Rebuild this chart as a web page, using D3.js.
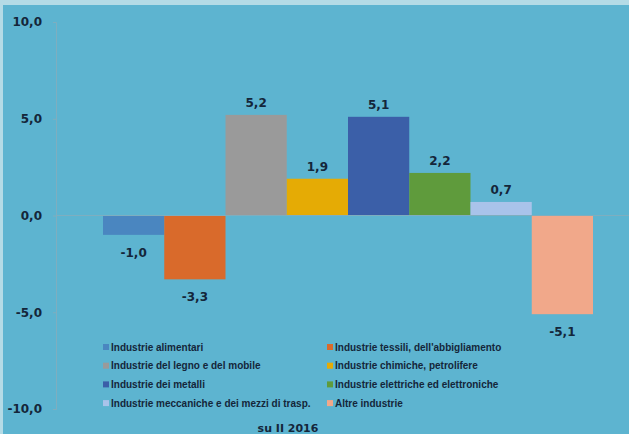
<!DOCTYPE html>
<html>
<head>
<meta charset="utf-8">
<script src="https://cdn.jsdelivr.net/npm/d3@7"></script>
<style>
  html, body { margin: 0; padding: 0; background: #5db4d0; }
  svg { display: block; }
</style>
</head>
<body>
<div id="chart"></div>
<script>
// series names, one bar each
const seriesNames = [
  "Industrie alimentari",
  "Industrie tessili, dell'abbigliamento",
  "Industrie del legno e del mobile",
  "Industrie chimiche, petrolifere",
  "Industrie dei metalli",
  "Industrie elettriche ed elettroniche",
  "Industrie meccaniche e dei mezzi di trasp.",
  "Altre industrie"
];
const seriesValues = [-1.0, -3.3, 5.2, 1.9, 5.1, 2.2, 0.7, -5.1];
const seriesColors = ["#4a86c0", "#d96a2b", "#9a9a9a", "#e5ab05", "#3b5fa8", "#5f9b3c", "#a9c3ea", "#f1a88a"];
const yTicks = [-10, -5, 0, 5, 10];
const categoryLabel = "su II 2016";

const W = 629, H = 434;

const svg = d3.select("#chart")
  .append("svg")
  .attr("width", W)
  .attr("height", H);

// background and the pale frame strips
svg.append("rect").attr("width", W).attr("height", H).attr("fill", "#5db4d0");
svg.append("rect").attr("width", W).attr("height", 5).attr("fill", "#b4dbe6");
svg.append("rect").attr("width", 3).attr("height", H).attr("fill", "#b4dbe6");

const fmt = v => d3.format(".1f")(v).replace(".", ",").replace("−", "-");

const y = d3.scaleLinear()
  .domain([-10, 10])
  .range([409, 22]);

const x = d3.scaleBand()
  .domain(seriesNames)
  .range([103, 593])
  .paddingInner(0);

const axisX = 56;

// y axis
const yAxis = svg.append("g")
  .attr("transform", `translate(${axisX},0)`)
  .call(d3.axisLeft(y).tickValues(yTicks).tickFormat(fmt).tickSize(3).tickPadding(11));
yAxis.select(".domain").attr("stroke", "#7eaebf");
yAxis.selectAll(".tick line").attr("stroke", "#7eaebf");
yAxis.selectAll(".tick text")
  .attr("fill", "#14263a")
  .style("font-family", "DejaVu Sans, Verdana, sans-serif")
  .style("font-weight", "bold")
  .style("font-size", "12px");

// bars
svg.selectAll(".bar")
  .data(seriesNames)
  .join("rect")
  .attr("class", "bar")
  .attr("x", d => x(d))
  .attr("width", x.bandwidth())
  .attr("y", (d, i) => y(Math.max(0, seriesValues[i])))
  .attr("height", (d, i) => Math.abs(y(seriesValues[i]) - y(0)))
  .attr("fill", (d, i) => seriesColors[i]);

// zero line
svg.append("line")
  .attr("x1", axisX).attr("x2", W)
  .attr("y1", y(0)).attr("y2", y(0))
  .attr("stroke", "#7eaebf");

// value labels
svg.selectAll(".val")
  .data(seriesNames)
  .join("text")
  .attr("class", "val")
  .attr("x", d => x(d) + x.bandwidth() / 2)
  .attr("y", (d, i) => seriesValues[i] >= 0 ? y(seriesValues[i]) - 8 : y(seriesValues[i]) + 22)
  .attr("text-anchor", "middle")
  .attr("fill", "#14263a")
  .style("font-family", "DejaVu Sans, Verdana, sans-serif")
  .style("font-weight", "bold")
  .style("font-size", "12px")
  .text((d, i) => fmt(seriesValues[i]));

// legend, two columns
const legend = svg.append("g");
const legItems = legend.selectAll("g")
  .data(seriesNames)
  .join("g")
  .attr("transform", (d, i) => `translate(${i % 2 === 0 ? 103 : 327},${347 + Math.floor(i / 2) * 18.7})`);
legItems.append("rect")
  .attr("x", 0).attr("y", -3)
  .attr("width", 6).attr("height", 6)
  .attr("fill", (d, i) => seriesColors[i]);
legItems.append("text")
  .attr("x", 8)
  .attr("y", 3.5)
  .attr("fill", "#14263a")
  .style("font-family", "Liberation Sans, Arial, sans-serif")
  .style("font-weight", "bold")
  .style("font-size", "10px")
  .text(d => d);

// category label
svg.append("text")
  .attr("x", 288)
  .attr("y", 432)
  .attr("text-anchor", "middle")
  .attr("fill", "#14263a")
  .style("font-family", "DejaVu Sans, Verdana, sans-serif")
  .style("font-weight", "bold")
  .style("font-size", "11px")
  .text(categoryLabel);
</script>
</body>
</html>
